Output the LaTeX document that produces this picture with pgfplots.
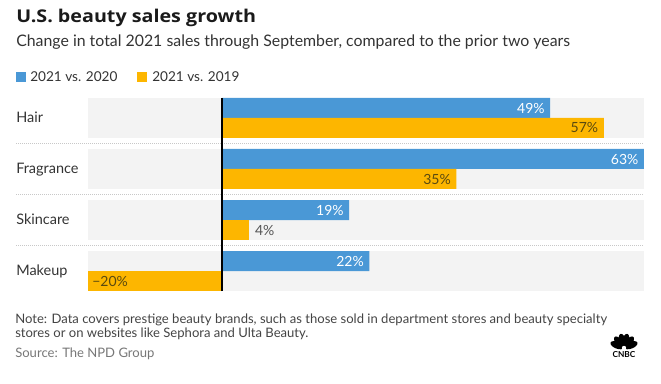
\documentclass[border=0pt]{standalone}
\usepackage{pgfplots}
\pgfplotsset{compat=1.18}
\usepackage{fontspec}
\setmainfont{Lato}
\newfontfamily\titlefont[FakeStretch=1.12]{Open Sans}
\definecolor{cblue}{HTML}{4A98D6}
\definecolor{cyellow}{HTML}{FDB600}
\definecolor{band}{HTML}{F3F3F3}
\definecolor{sepc}{HTML}{C8C8C8}
\definecolor{titlec}{HTML}{1A1A1A}
\definecolor{textc}{HTML}{333333}
\definecolor{notec}{HTML}{444444}
\definecolor{srcc}{HTML}{777777}
\definecolor{ylab}{HTML}{5A4A10}
\definecolor{glab}{HTML}{555555}
\begin{document}
\begin{tikzpicture}[x=0.75pt,y=0.75pt]
\path[use as bounding box] (0,0) rectangle (661,383);
% titles
\node[anchor=base west, inner sep=0, text=titlec, font=\titlefont\bfseries\fontsize{13.2}{16}\selectfont] at (16,360) {U.S. beauty sales growth};
\node[anchor=base west, inner sep=0, text=textc, font=\fontsize{11.9}{14}\selectfont] at (16,336) {Change in total 2021 sales through September, compared to the prior two years};
% legend
\fill[cblue] (16,301.5) rectangle (25.5,311);
\node[anchor=base west, inner sep=0, text=textc, font=\fontsize{10.2}{12}\selectfont] at (30,301.5) {2021 vs. 2020};
\fill[cyellow] (137,301.5) rectangle (146.5,311);
\node[anchor=base west, inner sep=0, text=textc, font=\fontsize{10.2}{12}\selectfont] at (152,301.5) {2021 vs. 2019};
% category labels
\foreach \lab/\yy in {Hair/260.5, Fragrance/209.5, Skincare/158.5, Makeup/107.5}
  \node[anchor=base west, inner sep=0, text=textc, font=\fontsize{10.85}{12}\selectfont] at (16,\yy) {\lab};
% separators
\foreach \yy in {239.7,188.7,137.7}
  \draw[sepc, line width=0.75pt, dash pattern=on 0.75pt off 0.75pt] (16,\yy) -- (644,\yy);
\begin{axis}[
  at={(66pt,69pt)}, anchor=south west,
  scale only axis, width=417pt, height=144.75pt,
  xmin=-20, xmax=63, ymin=-0.392, ymax=3.392,
  axis lines=none, clip=false,
  xbar, bar width=15pt,
  nodes near coords={\pgfmathprintnumber[assume math mode=true]{\pgfplotspointmeta}\%},
  every node near coord/.append style={font=\fontsize{10.5}{12}\selectfont, inner sep=0pt},
]
\fill[band] (axis cs:-20,2.608) rectangle (axis cs:63,3.392);
\fill[band] (axis cs:-20,1.608) rectangle (axis cs:63,2.392);
\fill[band] (axis cs:-20,0.608) rectangle (axis cs:63,1.392);
\fill[band] (axis cs:-20,-0.392) rectangle (axis cs:63,0.392);
% 2021 vs 2020
\addplot[fill=cblue, draw=none, bar shift=7.5pt,
  every node near coord/.append style={anchor=east, text=white, xshift=-4pt}]
  coordinates {(49,3) (63,2) (19,1) (22,0)};
% 2021 vs 2019
\addplot[fill=cyellow, draw=none, bar shift=-7.5pt,
  every node near coord/.append style={anchor=east, text=ylab, xshift=-4pt}]
  coordinates {(57,3) (35,2)};
\addplot[fill=cyellow, draw=none, bar shift=-7.5pt,
  every node near coord/.append style={anchor=west, text=glab, xshift=4.5pt}]
  coordinates {(4,1)};
\addplot[fill=cyellow, draw=none, bar shift=-7.5pt, point meta=explicit,
  nodes near coords={\char"2212\pgfmathprintnumber[assume math mode=true]{\pgfplotspointmeta}\%},
  every node near coord/.append style={anchor=west, text=ylab, xshift=3pt}]
  coordinates {(-20,0) [20]};
\draw[black, line width=1.1pt] (axis cs:0,-0.392) -- (axis cs:0,3.392);
\end{axis}
% notes
\node[anchor=base west, inner sep=0, text=notec, font=\fontsize{9.8}{11}\selectfont] at (15,59.7) {Note: Data covers prestige beauty brands, such as those sold in department stores and beauty specialty};
\node[anchor=base west, inner sep=0, text=notec, font=\fontsize{9.8}{11}\selectfont] at (15,45.5) {stores or on websites like Sephora and Ulta Beauty.};
\node[anchor=base west, inner sep=0, text=srcc, font=\fontsize{9.8}{11}\selectfont] at (15,26) {Source: The NPD Group};
% CNBC logo
\foreach \a in {22,50,77,103,130,158}
  \fill[black] (624,35) ++(\a:7.5) ellipse[x radius=7, y radius=3.4, rotate=\a];
\fill[white] (624,35) circle (2.2);
\node[inner sep=0, font=\bfseries\fontsize{6.2}{6}\selectfont] at (624,28) {CNBC};
\end{tikzpicture}
\end{document}
